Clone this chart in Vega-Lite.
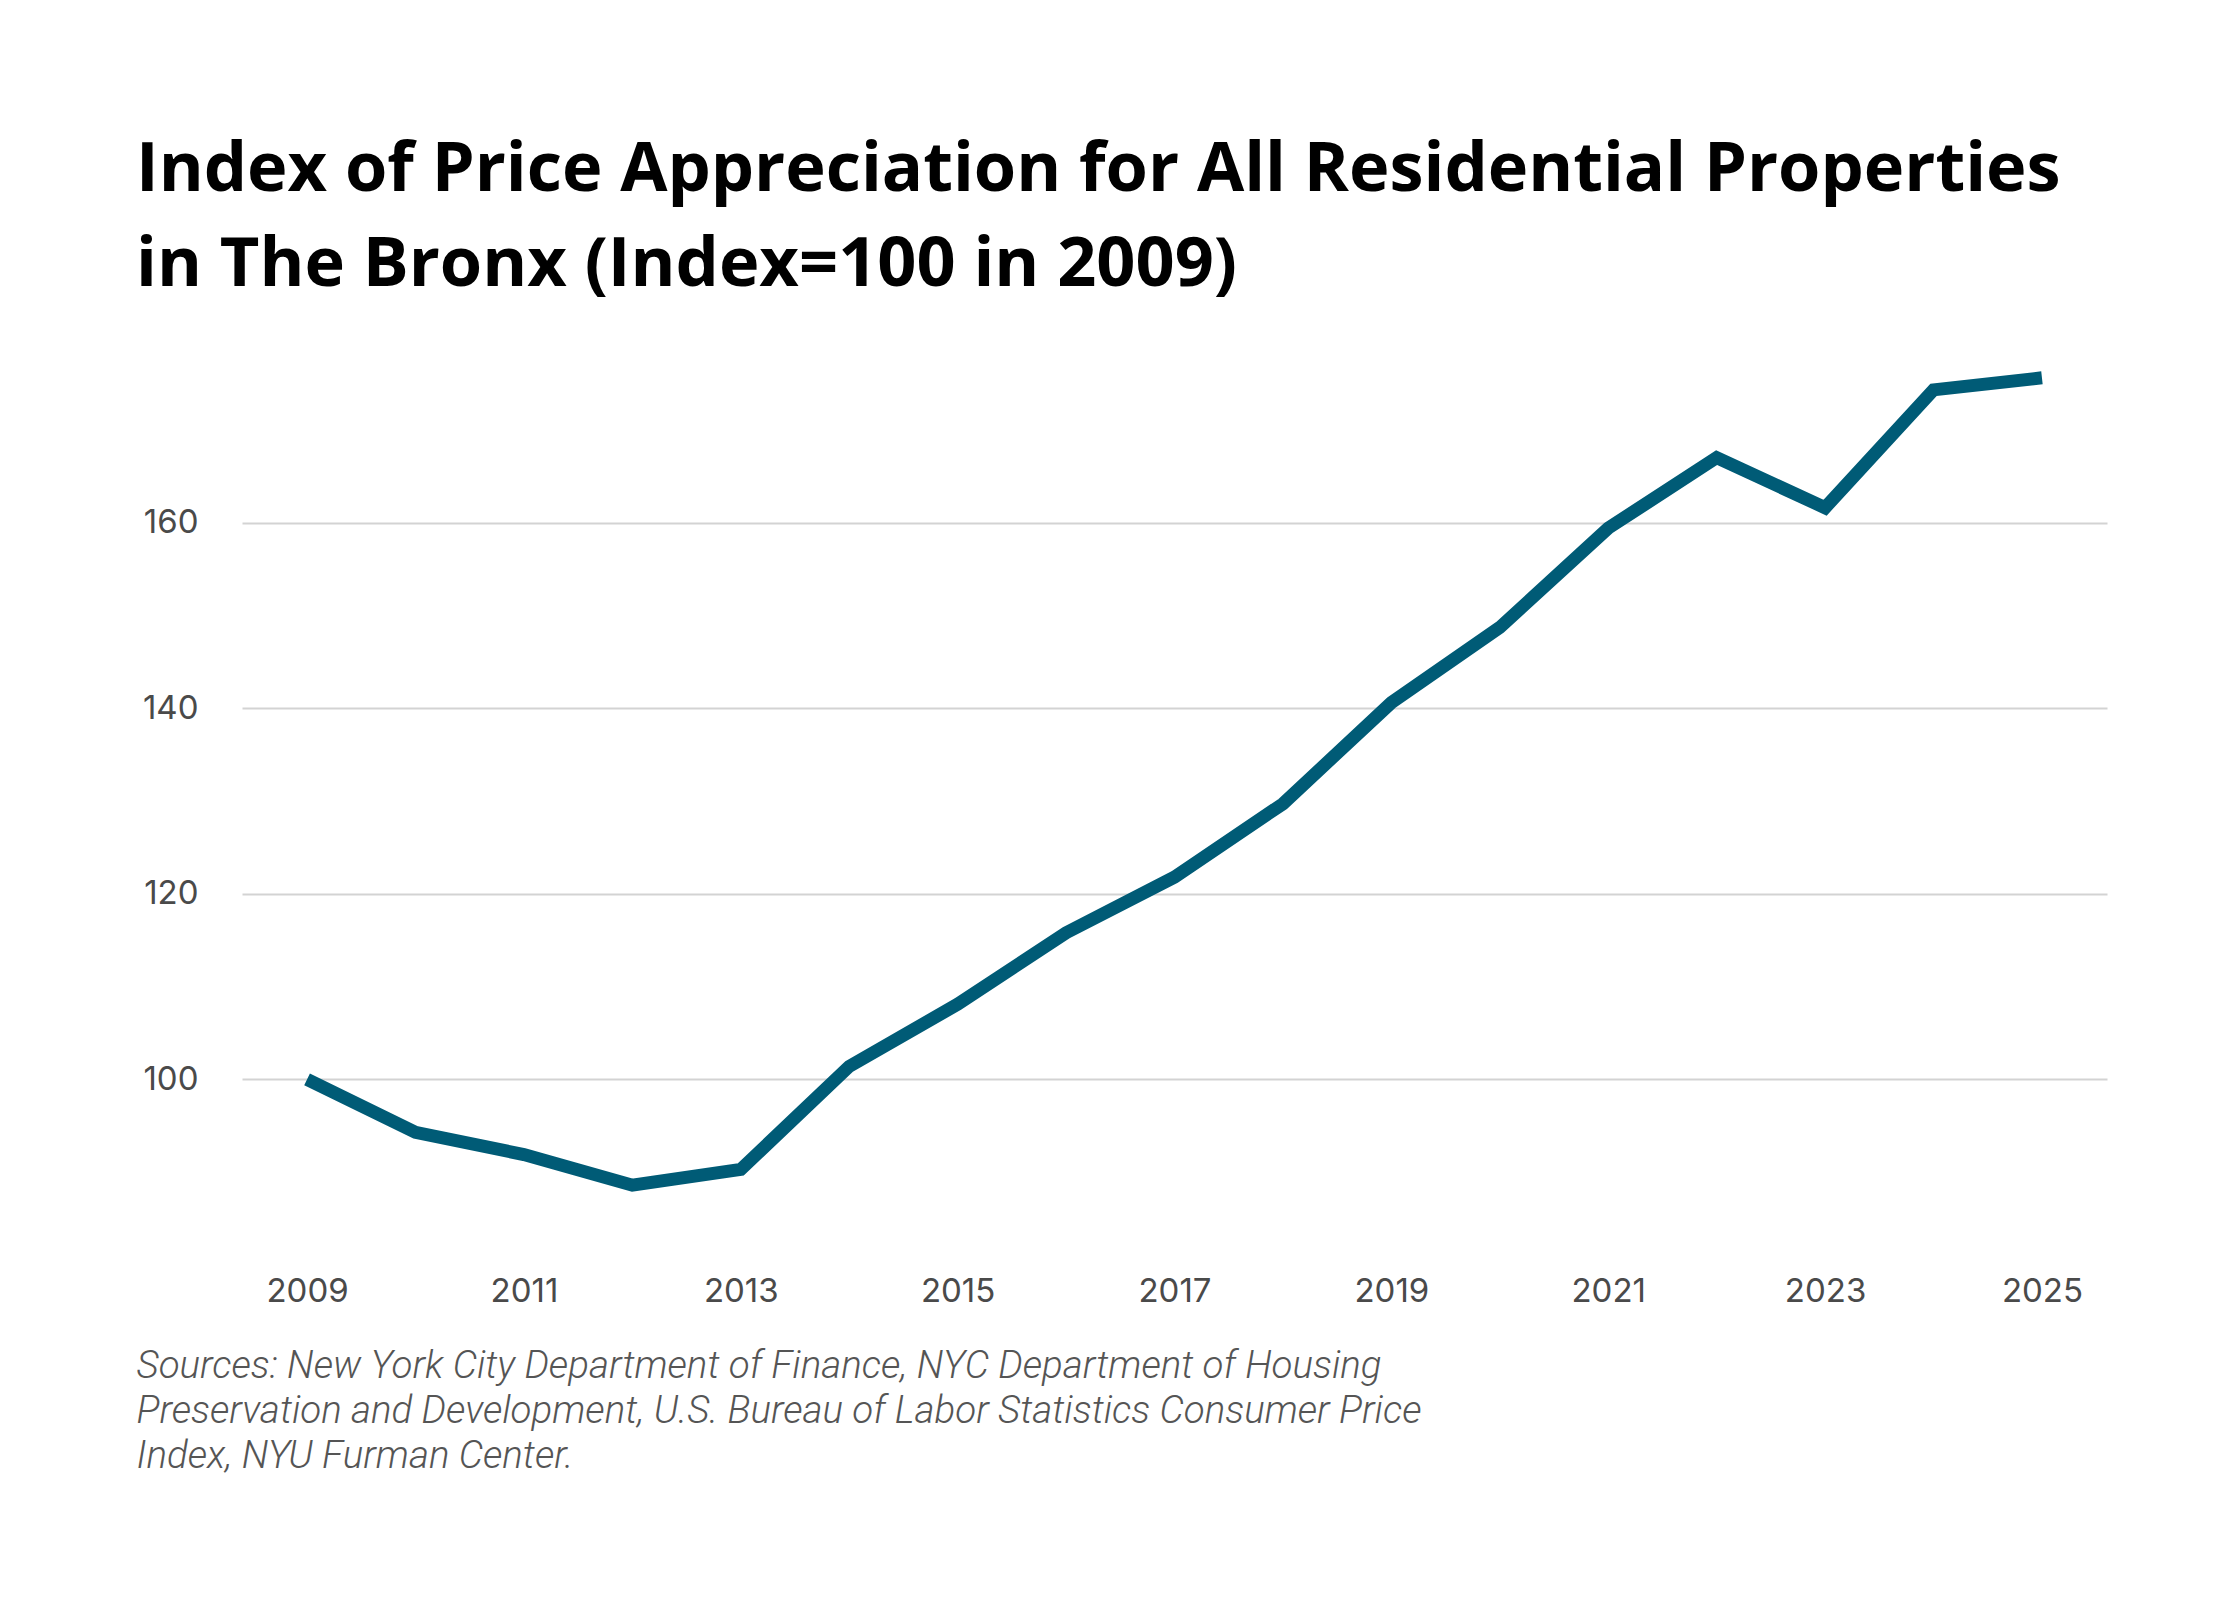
{
  "$schema": "https://vega.github.io/schema/vega-lite/v6.json",
  "description": "Index of Price Appreciation for All Residential Properties in The Bronx",
  "width": 1865,
  "height": 928,
  "autosize": "none",
  "padding": {"left": 242, "top": 337, "right": 133, "bottom": 335},
  "background": "white",
  "title": {
    "text": [
      "Index of Price Appreciation for All Residential Properties",
      "in The Bronx (Index=100 in 2009)"
    ],
    "anchor": "start",
    "frame": "group",
    "font": "Open Sans",
    "fontSize": 68.5,
    "fontWeight": 700,
    "color": "#000000",
    "lineHeight": 95,
    "dx": -106,
    "offset": 37
  },
  "data": {
    "values": [
      {"year": 2009, "index": 100.0},
      {"year": 2010, "index": 94.3},
      {"year": 2011, "index": 91.9},
      {"year": 2012, "index": 88.6},
      {"year": 2013, "index": 90.3},
      {"year": 2014, "index": 101.4},
      {"year": 2015, "index": 108.1},
      {"year": 2016, "index": 115.8},
      {"year": 2017, "index": 121.8},
      {"year": 2018, "index": 129.7},
      {"year": 2019, "index": 140.6},
      {"year": 2020, "index": 148.7},
      {"year": 2021, "index": 159.4},
      {"year": 2022, "index": 167.0},
      {"year": 2023, "index": 161.6},
      {"year": 2024, "index": 174.3},
      {"year": 2025, "index": 175.6}
    ]
  },
  "mark": {
    "type": "line",
    "color": "#005b76",
    "strokeWidth": 13,
    "strokeCap": "butt",
    "strokeJoin": "miter"
  },
  "encoding": {
    "x": {
      "field": "year",
      "type": "quantitative",
      "scale": {"domain": [2008.4, 2025.6], "nice": false, "zero": false},
      "axis": {
        "values": [2009, 2011, 2013, 2015, 2017, 2019, 2021, 2023, 2025],
        "format": "d",
        "grid": false,
        "domain": false,
        "ticks": false,
        "labelFont": "Inter",
        "labelFontSize": 33,
        "labelColor": "#4a4a4a",
        "labelPadding": 10,
        "title": [
          "Sources: New York City Department of Finance, NYC Department of Housing",
          "Preservation and Development, U.S. Bureau of Labor Statistics Consumer Price",
          "Index, NYU Furman Center."
        ],
        "titleFont": "Roboto",
        "titleFontSize": 38.5,
        "titleFontStyle": "italic",
        "titleFontWeight": 300,
        "titleColor": "#555555",
        "titleLineHeight": 45,
        "titleAnchor": "start",
        "titleAlign": "left",
        "titleBaseline": "alphabetic",
        "titleX": -106,
        "titleY": 112
      }
    },
    "y": {
      "field": "index",
      "type": "quantitative",
      "scale": {"domain": [80, 180], "nice": false, "zero": false},
      "axis": {
        "values": [100, 120, 140, 160],
        "grid": true,
        "gridColor": "#d3d3d3",
        "gridWidth": 2,
        "domain": false,
        "ticks": false,
        "labelFont": "Inter",
        "labelFontSize": 33,
        "labelColor": "#4a4a4a",
        "labelPadding": 44,
        "title": null
      }
    }
  },
  "config": {
    "view": {"stroke": null}
  }
}
